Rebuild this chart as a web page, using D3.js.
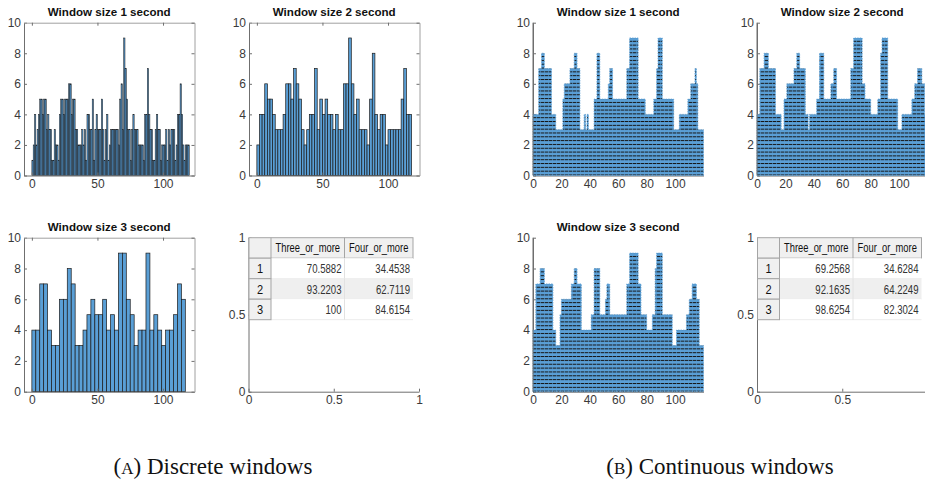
<!DOCTYPE html>
<html><head><meta charset="utf-8">
<script src="https://cdn.jsdelivr.net/npm/d3@7"></script>
<style>body{margin:0;background:#fff}svg{display:block}</style>
</head><body><svg id="c" width="925" height="486"></svg>
<script>
// ---------------- data ----------------
const titles = ["Window size 1 second", "Window size 2 second", "Window size 3 second"];
const binWidths = [1, 2, 3];
const disc1 = [1,2,4,2,3,4,5,5,4,5, 5,3,4,3,3,1,1,3,2,2, 1,4,5,5,4,5,5,5,6,6, 4,5,5,3,3,2,2,2,3,2,
  3,1,4,4,3,3,5,1,3,4, 3,3,3,5,3,1,3,4,1,2, 3,3,3,3,3,3,2,5,6,3, 9,7,5,3,3,1,3,4,3,3,
  3,2,2,2,2,1,4,4,7,4, 3,3,1,1,3,4,3,3,1,2, 2,2,3,1,3,2,3,3,3,1, 2,4,4,6,4,2,1,2,2,2];
const disc2 = [2,4,4,6,5,5,4,3,3,3, 4,6,6,5,7,6,5,3,2,3, 4,4,7,3,5,4,5,4,4,3, 4,3,3,6,6,9,6,4,5,3,
  3,3,2,5,8,4,3,4,4,2, 3,3,3,3,3,5,7,4,4];
const disc3 = [4,4,7,7,4,3,3,6,6,8, 7,3,3,4,5,6,5,5,6,4, 5,4,9,9,6,5,3,4,4,9, 4,5,4,3,4,4,5,7,6];
const cont1 = [4,4,4,4,7,7,8,8,7,7, 7,7,7,4,4,4,3,3,3,3, 3,5,6,6,6,6,7,7,7,8, 8,7,7,3,3,3,4,3,4,3,
  3,3,3,5,5,8,8,5,5,5, 5,5,5,6,7,7,5,5,5,5, 5,5,5,5,5,5,7,7,9,9, 9,9,9,9,5,5,5,5,5,4,
  4,4,4,4,4,5,5,7,9,9, 9,5,5,5,5,5,5,5,5,3, 3,3,3,4,4,4,4,4,4,5, 5,6,6,6,7,6,3,3,3,3];
const cont2 = [4,4,7,7,7,8,8,8,7,7, 7,7,7,4,4,4,4,3,3,5, 5,6,6,6,6,6,7,7,8,8, 7,7,7,7,4,4,3,4,4,4,
  4,4,5,5,8,8,8,5,5,5, 5,5,6,6,7,7,5,5,5,5, 5,5,5,5,5,5,7,7,9,9, 9,9,9,9,6,6,5,5,5,5,
  4,4,4,4,4,5,5,8,9,9, 9,9,5,5,5,5,5,5,5,3, 3,3,4,4,4,4,4,4,4,5, 5,6,6,7,7,7,6,6,4,4];
const cont3 = [4,4,7,7,7,8,8,8,7,7, 7,7,7,7,4,4,3,3,3,5, 6,6,6,6,6,6,6,7,7,8, 8,7,7,7,4,4,4,4,4,4,
  4,5,5,8,8,8,8,5,5,5, 5,6,7,7,5,5,5,5,5,5, 5,5,5,5,5,5,7,7,9,9, 9,9,9,9,7,7,5,5,5,5,
  4,4,4,4,5,5,8,9,9,9, 9,5,5,5,5,5,5,5,3,3, 3,4,4,4,4,4,4,4,5,5, 6,6,7,7,7,6,6,3,3,3];
const yTicks = [0, 2, 4, 6, 8, 10];
const discXTicks = [0, 50, 100];
const contXTicks = [0, 20, 40, 60, 80, 100];
const tableTicks = [0, 0.5, 1];
const tableCols = ["Three_or_more", "Four_or_more"];
const tableRows = ["1", "2", "3"];
const tableA_three = [70.5882, 93.2203, 100];
const tableA_four = [34.4538, 62.7119, 84.6154];
const tableB_three = [69.2568, 92.1635, 98.6254];
const tableB_four = [34.6284, 64.2249, 82.3024];
const captionLetters = ["A", "B"];
const captions = ["Discrete windows", "Continuous windows"];

// ---------------- layout ----------------
const svg = d3.select("#c");
const defs = svg.append("defs");
const FILL = "#5a9fd6";
const AX = "#6f6f6f";
const TXT = "#3a3a3a";
const TICKFONT = "'Liberation Sans',Arial,sans-serif";
const rows = [{t: 22.7, b: 175.5}, {t: 237.7, b: 391.7}];
const cols = {A1: 24, A2: 249, B1: 533, B2: 757};
const W = 170.5;
const FIGW = 925;

function styleAxis(g) {
  g.attr("font-family", TICKFONT).attr("font-size", 12);
  g.select(".domain").attr("stroke", AX).attr("stroke-width", 1);
  g.selectAll(".tick line").attr("stroke", AX);
  g.selectAll(".tick text").attr("fill", TXT);
}

function drawAxes(x, y, box, xt, yt, boxOn, fmt) {
  const g = svg.append("g");
  const gb = g.append("g").attr("transform", `translate(0,${box.b})`)
    .call(d3.axisBottom(x).tickValues(xt).tickSizeInner(-3).tickSizeOuter(0).tickPadding(4).tickFormat(fmt || d3.format("d")));
  styleAxis(gb);
  // labels whose centre falls past the figure edge are not shown (as in the cropped reference)
  gb.selectAll(".tick text").filter(d => x(d) > FIGW - 4).remove();
  const gl = g.append("g").attr("transform", `translate(${box.l},0)`)
    .call(d3.axisLeft(y).tickValues(yt).tickSizeInner(-3).tickSizeOuter(0).tickPadding(3).tickFormat(fmt || d3.format("d")));
  styleAxis(gl);
  if (boxOn) {
    const gt = g.append("g").attr("transform", `translate(0,${box.t})`)
      .call(d3.axisTop(x).tickValues(xt).tickSizeInner(-3).tickSizeOuter(0).tickFormat(""));
    styleAxis(gt);
    gt.select(".domain").attr("stroke", "#a0a0a0");
    const gr = g.append("g").attr("transform", `translate(${box.r},0)`)
      .call(d3.axisRight(y).tickValues(yt).tickSizeInner(-3).tickSizeOuter(0).tickFormat(""));
    styleAxis(gr);
    gr.select(".domain").attr("stroke", "#a0a0a0");
  }
  return g;
}

function title(box, text) {
  svg.append("text").attr("x", (box.l + box.r) / 2).attr("y", box.t - 7)
    .attr("text-anchor", "middle").attr("font-family", "'Liberation Sans',Arial,sans-serif")
    .attr("font-weight", "bold").attr("font-size", 11.6).attr("fill", "#111").text(text);
}

// ---------------- discrete histograms ----------------
const discData = [disc1, disc2, disc3];
const discBoxes = [
  {l: cols.A1, r: cols.A1 + W, ...rows[0]},
  {l: cols.A2, r: cols.A2 + W, ...rows[0]},
  {l: cols.A1, r: cols.A1 + W, ...rows[1]}
];
discData.forEach((vals, k) => {
  const box = discBoxes[k], bw = binWidths[k];
  const x = d3.scaleLinear().domain([-6, 124]).range([box.l, box.r]);
  const y = d3.scaleLinear().domain([0, 10]).range([box.b, box.t]);
  svg.append("g").selectAll("rect").data(vals).join("rect")
    .attr("x", (d, i) => x(i * bw))
    .attr("width", (d, i) => x((i + 1) * bw) - x(i * bw))
    .attr("y", d => y(d))
    .attr("height", d => y(0) - y(d))
    .attr("fill", k === 0 ? "#4f8fc4" : FILL)
    .attr("stroke", "#1b1b1b").attr("stroke-width", k === 0 ? 0.5 : 0.7);
  drawAxes(x, y, box, discXTicks, yTicks, true);
  title(box, titles[k]);
});

// ---------------- continuous windows ----------------
const contData = [cont1, cont2, cont3];
const contBoxes = [
  {l: cols.B1, r: cols.B1 + W, ...rows[0]},
  {l: cols.B2, r: cols.B2 + W, ...rows[0]},
  {l: cols.B1, r: cols.B1 + W, ...rows[1]}
];
contData.forEach((vals, k) => {
  const box = contBoxes[k];
  const x = d3.scaleLinear().domain([0, 120]).range([box.l, box.r]);
  const y = d3.scaleLinear().domain([0, 10]).range([box.b, box.t]);
  const sp = y(0) - y(0.25);
  const pid = "pat" + k;
  const p = defs.append("pattern").attr("id", pid).attr("patternUnits", "userSpaceOnUse")
    .attr("x", box.l).attr("y", y(0) - 1).attr("width", 4).attr("height", sp);
  p.append("rect").attr("width", 4).attr("height", sp).attr("fill", FILL);
  p.append("rect").attr("x", 0).attr("y", 0).attr("width", 3.4).attr("height", 1).attr("fill", "#151515");
  const pts = vals.map((v, i) => [i, v]).concat([[vals.length, vals[vals.length - 1]]]);
  const area = d3.area().curve(d3.curveStepAfter).x(d => x(d[0])).y0(y(0)).y1(d => y(d[1]));
  drawAxes(x, y, box, contXTicks, yTicks, false);
  svg.append("path").datum(pts).attr("d", area).attr("fill", `url(#${pid})`)
    .attr("stroke", "#5a9fd6").attr("stroke-width", 0.8).attr("stroke-dasharray", "1.5,1");
  svg.append("line").attr("x1", box.l).attr("x2", box.l).attr("y1", box.t).attr("y2", box.b).attr("stroke", AX);
  title(box, titles[k]);
});

// ---------------- tables ----------------
function narrowText(sel, x, y, anchor, size, fill, text, sx) {
  return sel.append("text").attr("transform", `translate(${x},${y}) scale(${sx || 0.8},1)`)
    .attr("text-anchor", anchor).attr("font-family", "'Liberation Sans',Arial,sans-serif")
    .attr("font-size", size).attr("fill", fill).text(text);
}
function drawTable(box, three, four) {
  const x = d3.scaleLinear().domain([0, 1]).range([box.l, box.r]);
  const y = d3.scaleLinear().domain([0, 1]).range([box.b, box.t]);
  drawAxes(x, y, box, tableTicks, tableTicks, false, d => String(d));
  const cw = [22, 73.5, 68.5];
  const hh = 20.5, rh = 20.5;
  const tx = box.l + 0.5, ty = box.t;
  const cx = [tx, tx + cw[0], tx + cw[0] + cw[1], tx + cw[0] + cw[1] + cw[2]];
  const g = svg.append("g");
  g.append("rect").attr("x", tx).attr("y", ty).attr("width", cx[3] - tx).attr("height", hh)
    .attr("fill", "#f0f0f0").attr("stroke", "#a5a5a5").attr("stroke-width", 1);
  [cx[1], cx[2]].forEach(xx => g.append("line").attr("x1", xx).attr("x2", xx).attr("y1", ty).attr("y2", ty + hh).attr("stroke", "#a5a5a5"));
  tableCols.forEach((c, i) => narrowText(g, (cx[i + 1] + cx[i + 2]) / 2, ty + 14.5, "middle", 12, "#111", c, 0.78));
  const rowsData = tableRows.map((r, i) => ({r, a: three[i], b: four[i], i}));
  const rg = g.selectAll(".row").data(rowsData).join("g")
    .attr("transform", d => `translate(0,${ty + hh + d.i * rh})`);
  rg.append("rect").attr("x", cx[1]).attr("y", 0).attr("width", cx[3] - cx[1]).attr("height", rh)
    .attr("fill", d => d.i === 1 ? "#efefef" : "#fff");
  rg.append("line").attr("x1", cx[1]).attr("x2", cx[3]).attr("y1", rh).attr("y2", rh).attr("stroke", "#ececec");
  rg.append("line").attr("x1", cx[2]).attr("x2", cx[2]).attr("y1", 0).attr("y2", rh).attr("stroke", "#e2e2e2");
  rg.append("rect").attr("x", tx).attr("y", 0).attr("width", cw[0]).attr("height", rh)
    .attr("fill", "#f0f0f0").attr("stroke", "#a5a5a5");
  rg.each(function(d) {
    const s = d3.select(this);
    narrowText(s, tx + cw[0] / 2, 15, "middle", 13, "#111", d.r, 0.85);
    narrowText(s, cx[2] - 3, 15, "end", 12, "#333", String(d.a), 0.8);
    narrowText(s, cx[3] - 3, 15, "end", 12, "#333", String(d.b), 0.8);
  });
}
drawTable({l: 248.5, r: 419, ...rows[1]}, tableA_three, tableA_four);
drawTable({l: 757, r: 927.5, ...rows[1]}, tableB_three, tableB_four);

// ---------------- captions ----------------
const capX = [213, 720];
captions.forEach((c, i) => {
  const t = svg.append("text").attr("x", capX[i]).attr("y", 474).attr("text-anchor", "middle")
    .attr("font-family", "'Liberation Serif','Times New Roman',serif").attr("font-size", 23).attr("fill", "#111");
  t.append("tspan").text("(");
  t.append("tspan").attr("font-size", 17).text(captionLetters[i]);
  t.append("tspan").text(") " + c);
});
</script></body></html>
